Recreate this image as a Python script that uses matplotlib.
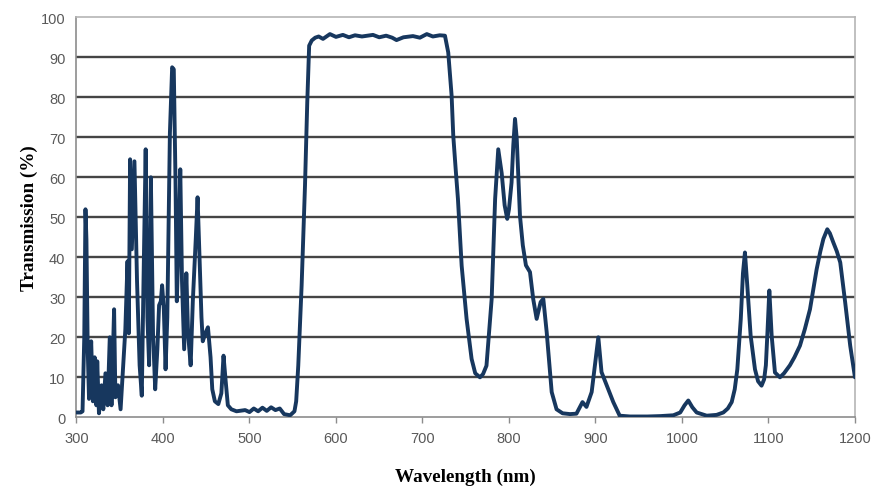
import matplotlib
matplotlib.use('Agg')
import matplotlib.pyplot as plt

# transmission spectrum, values
wavelength = [
    300, 305, 307, 309, 310.4, 311.5, 313, 314.5, 317, 319, 321, 323, 324, 326,
    329, 331, 333.5, 336, 338.5, 340.5, 343.5, 345, 348, 351, 354, 356.5, 359,
    360.5, 362, 364, 367, 370, 373, 375.5, 377.5, 380, 382, 384, 386, 388.5,
    391, 393.5, 395.5, 397.5, 399, 401, 403, 405, 408, 410.6, 412.5, 414.5,
    416, 418.5, 420, 422, 424.5, 427, 429, 432, 434.5, 438, 440, 442, 444.5,
    446, 449, 452, 455, 457, 460, 464, 467.5, 470, 472.5, 475, 479, 485, 495,
    500, 505, 510, 515, 520, 525, 530, 535, 540, 547, 552, 554, 556.4, 560.3,
    564.2, 566.8, 569, 572, 576, 580, 585, 593, 600, 608, 615, 622, 630, 642.8,
    650, 658, 665, 670, 678, 689, 697, 705, 712, 720, 726, 729.8, 733.7, 735.6,
    738.4, 741, 745.3, 751, 756.8, 761, 766.5, 770, 774, 780, 784, 787.6,
    791.6, 795, 798, 800, 803, 805, 807, 809, 812.7, 816, 819.6, 824.3, 828,
    832, 836.6, 839.7, 843.6, 849.4, 855, 862, 870.5, 878, 885, 889.6, 895.6,
    900, 903.3, 905, 907, 913, 920.6, 928, 940, 960, 975, 990, 998, 1003,
    1007.3, 1012, 1017, 1028.6, 1040, 1047.8, 1053, 1057.5, 1061, 1064, 1068,
    1070.5, 1072.8, 1075.5, 1079.4, 1084.4, 1088, 1092, 1095, 1097, 1099,
    1101, 1103.7, 1107.5, 1113.3, 1118, 1124.8, 1130, 1136.4, 1142, 1148,
    1155.7, 1160, 1163.5, 1168, 1171, 1175, 1179, 1183, 1188.7, 1194.5,
    1199.4, 1200,
]
transmission = [
    1.2, 1.2, 1.5, 20, 52, 44.5, 17, 4.6, 19, 4, 15, 3, 14, 1,
    8, 2, 11, 3, 20, 3, 27, 5, 8, 2, 13, 22, 39,
    21, 64.5, 42, 64, 34, 13, 5.4, 34, 67, 25, 13, 60, 21,
    7, 17, 28, 29, 33, 27, 12, 25, 71, 87.5, 87, 59,
    29, 47, 62, 34, 17, 36, 21, 13, 29, 45, 55, 42, 25,
    19, 21, 22.5, 15, 7, 4, 3.3, 6, 15.4, 9, 3, 2, 1.5, 1.8,
    1.3, 2.2, 1.5, 2.4, 1.6, 2.5, 1.8, 2.2, 0.8, 0.5, 1.5, 4, 12.9, 33,
    58, 78.7, 92.9, 94.2, 94.9, 95.2, 94.6, 95.8, 95.1, 95.6, 95.0, 95.5, 95.2, 95.6,
    95.0, 95.4, 94.9, 94.3, 95.0, 95.3, 94.9, 95.8, 95.2, 95.5, 95.4, 91.2, 80.4, 70.4,
    62, 54.6, 37.9, 24.6, 14.6, 11, 10, 10.8, 12.9, 29.6, 54.6, 67,
    61, 53, 49.6, 52, 58.7, 68, 74.6, 69.6, 50.4, 43, 38, 36.3, 29.6,
    24.6, 28.8, 29.6, 21.3, 6.3, 2, 1.0, 0.8, 0.9, 3.8, 2.6, 6.3,
    14, 20, 16, 11.3, 8, 3.8, 0.4, 0.2, 0.2, 0.3, 0.5, 1.2, 3,
    4.2, 2.5, 1.2, 0.4, 0.6, 1.2, 2.2, 3.8, 7, 12, 24.6,
    36, 41.2, 33, 20.4, 12, 9, 7.9, 9.5, 13, 22,
    31.7, 20.4, 11.2, 10, 11, 13, 15, 17.9, 22, 27,
    37, 41.5, 44.6, 47, 46, 43.7, 41.5, 38.7, 28.7, 17.9,
    10.8, 10,
]

x_ticks = [300, 400, 500, 600, 700, 800, 900, 1000, 1100, 1200]
y_ticks = [0, 10, 20, 30, 40, 50, 60, 70, 80, 90, 100]

fig = plt.figure(figsize=(8.75, 4.89), dpi=100)
ax = fig.add_axes([0.0874, 0.1446, 0.8897, 0.818])

for yv in y_ticks[1:-1]:
    ax.axhline(yv, color='#454545', lw=1.7, zorder=1)

ax.plot(wavelength, transmission, color='#17375e', lw=2.8,
        solid_joinstyle='round', solid_capstyle='round', zorder=3)

ax.set_xlim(300, 1200)
ax.set_ylim(0, 100)
ax.set_xticks(x_ticks)
ax.set_yticks(y_ticks)

for side in ['top', 'right']:
    ax.spines[side].set_color('#b5b5b5')
    ax.spines[side].set_linewidth(1.2)
for side in ['left', 'bottom']:
    ax.spines[side].set_color('#8c8c8c')
    ax.spines[side].set_linewidth(1.2)

ax.tick_params(axis='x', direction='out', length=4, width=1, color='#8c8c8c',
               labelsize=10.5, labelcolor='#595959', pad=6)
ax.tick_params(axis='y', length=0, labelsize=10.5, labelcolor='#595959', pad=8)
for lab in ax.get_xticklabels() + ax.get_yticklabels():
    lab.set_family('Liberation Sans')

ax.set_xlabel('Wavelength (nm)', family='Liberation Serif', fontweight='bold',
              fontsize=13.8, labelpad=16)
ax.set_ylabel('Transmission (%)', family='Liberation Serif', fontweight='bold',
              fontsize=13.8, labelpad=2)

fig.savefig('out.png', dpi=100)
